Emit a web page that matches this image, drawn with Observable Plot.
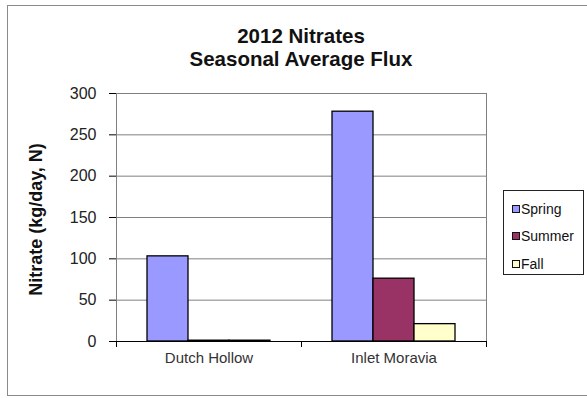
<!DOCTYPE html>
<html>
<head>
<meta charset="utf-8">
<script src="https://cdn.jsdelivr.net/npm/d3@7"></script>
<script src="https://cdn.jsdelivr.net/npm/@observablehq/plot@0.6"></script>
<style>
  html, body { margin: 0; padding: 0; background: #fff; }
  #chart {
    position: relative; width: 587px; height: 398px; overflow: hidden;
    font-family: "Liberation Sans", Arial, sans-serif; color: #111;
  }
  #outline {
    position: absolute; left: 7px; top: 5px; width: 620px; height: 391px;
    border: 1px solid #8a8a8a; box-sizing: border-box;
  }
  #title {
    position: absolute; left: 0; width: 602px; top: 24px;
    text-align: center; font-weight: bold; font-size: 20.5px; line-height: 23px;
  }
  #plot { position: absolute; left: 0; top: 0; }
  #legend {
    position: absolute; left: 503px; top: 190px; width: 81px; height: 85px;
    border: 1px solid #222; box-sizing: border-box; background: #fff;
    font-size: 14px; padding-top: 4px;
  }
  .item { display: flex; align-items: center; height: 27.5px; padding-left: 8px; }
  .swatch {
    width: 6px; height: 6px; border: 1px solid #111; margin-right: 1px;
  }
</style>
</head>
<body>
<div id="chart">
  <div id="outline"></div>
  <div id="plot"></div>
  <div id="title">2012 Nitrates<br>Seasonal Average Flux</div>
  <div id="legend"></div>
</div>
<script>
// Sites along the x axis and seasonal average nitrate flux (kg/day, N)
const sites = ["Dutch Hollow", "Inlet Moravia"];
const seasons = ["Spring", "Summer", "Fall"];
const springFlux = [103, 278];
const summerFlux = [1, 76];
const fallFlux = [1, 21];
const seasonColors = ["#9999FF", "#993366", "#FFFFCC"];
const yTicks = [0, 50, 100, 150, 200, 250, 300];
const yLabel = "Nitrate (kg/day, N)";

const fluxBySeason = [springFlux, summerFlux, fallFlux];
const rows = seasons.flatMap((season, s) =>
  sites.map((site, i) => ({site, season, value: fluxBySeason[s][i]}))
);

// Plot layout
const W = 587, H = 398;
const margin = {left: 116, right: 101, top: 93, bottom: 57};
const band = (W - margin.left - margin.right) / sites.length;
const barW = 41;
const gap = (band - seasons.length * barW) / 2;

const font = '"Liberation Sans", Arial, sans-serif';

const barMarks = seasons.map((season, s) =>
  Plot.barY(rows.filter(d => d.season === season), {
    x: "site", y: "value",
    fill: seasonColors[s],
    stroke: "#000", strokeWidth: 1.3,
    insetLeft: gap + s * barW,
    insetRight: band - gap - (s + 1) * barW
  })
);

// Category separators below the baseline (left edge of each band, plus the last right edge)
const edgeTicks = [
  Plot.ruleX(sites, {x: d => d, y1: 0, y2: 0, dx: -band / 2, insetBottom: -6, stroke: "#000"}),
  Plot.ruleX(sites.slice(-1), {x: d => d, y1: 0, y2: 0, dx: band / 2, insetBottom: -6, stroke: "#000"})
];

const chart = Plot.plot({
  width: W, height: H,
  marginLeft: margin.left, marginRight: margin.right,
  marginTop: margin.top, marginBottom: margin.bottom,
  style: {fontFamily: font, background: "transparent", overflow: "visible"},
  x: {type: "band", domain: sites, padding: 0},
  y: {domain: [0, 300]},
  marks: [
    Plot.gridY(yTicks, {stroke: "#808080", strokeOpacity: 1}),
    Plot.frame({stroke: "#808080"}),
    ...barMarks,
    Plot.ruleY([0], {stroke: "#000"}),
    Plot.ruleX([0], {frameAnchor: "left", stroke: "#000"}),
    ...edgeTicks,
    Plot.axisY(yTicks, {tickSize: 7, tickPadding: 13, fontSize: 16, fill: "#222", stroke: "#000", label: null}),
    Plot.axisX({tickSize: 0, tickPadding: 11, fontSize: 15, fill: "#333", label: null}),
    Plot.text([yLabel], {
      frameAnchor: "left", textAnchor: "middle", dx: -80, dy: 2, rotate: -90,
      fontSize: 18, fontWeight: "bold", fill: "#111", text: d => d
    })
  ]
});
document.getElementById("plot").appendChild(chart);

// Legend
const legend = document.getElementById("legend");
seasons.forEach((season, s) => {
  const item = document.createElement("div");
  item.className = "item";
  const sw = document.createElement("span");
  sw.className = "swatch";
  sw.style.background = seasonColors[s];
  const label = document.createElement("span");
  label.textContent = season;
  item.appendChild(sw);
  item.appendChild(label);
  legend.appendChild(item);
});
</script>
</body>
</html>
